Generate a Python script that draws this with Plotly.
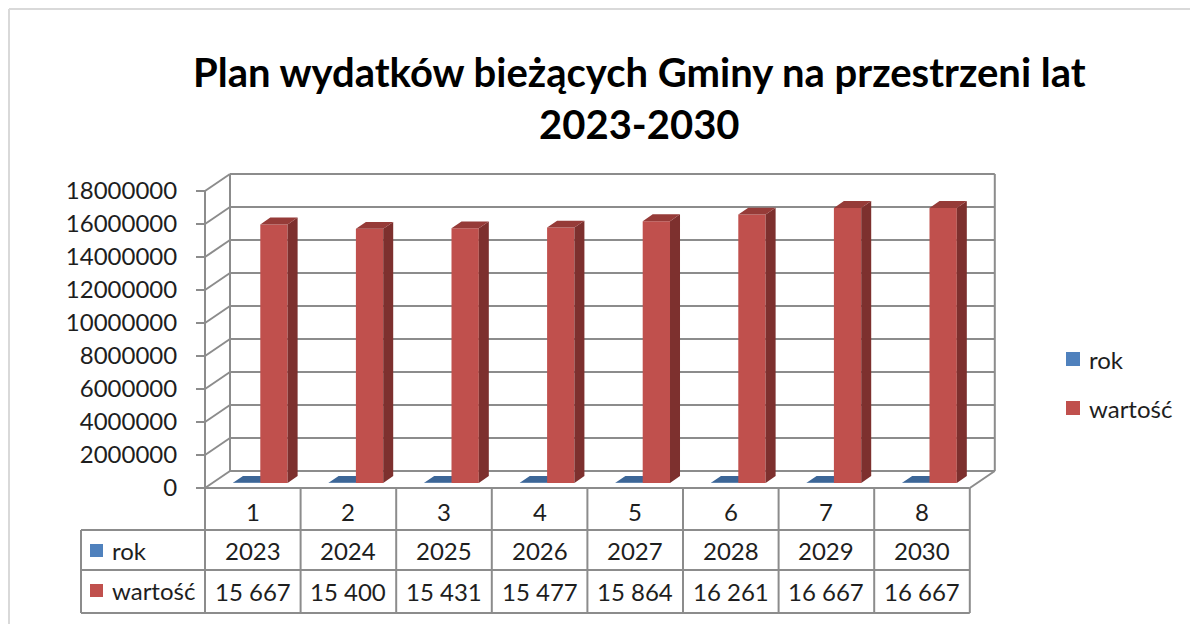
import plotly.graph_objects as go

# ---------------- data ----------------
kategorie = [1, 2, 3, 4, 5, 6, 7, 8]
rok = [2023, 2024, 2025, 2026, 2027, 2028, 2029, 2030]
wartosc_tys = [15667, 15400, 15431, 15477, 15864, 16261, 16667, 16667]
wartosc = [v * 1000 for v in wartosc_tys]
serie = ["rok", "wartość"]
y_ticks = [0, 2000000, 4000000, 6000000, 8000000, 10000000, 12000000, 14000000, 16000000, 18000000]
tytul = "Plan wydatków bieżących Gminy na przestrzeni lat<br>2023-2030"

# ---------------- styles / geometry ----------------
PAGE_OFF = 8        # default body margin of the html page
W, H = 1198 - PAGE_OFF, 624 - PAGE_OFF
FONT = "Lato"
TXT = "#1e1e1e"
GRID = "#8c8c8c"
BLUE = {"front": "#4F81BD", "side": "#34557E", "top": "#3C6697"}
RED = {"front": "#C0504D", "side": "#7D302E", "top": "#963B38"}

X0 = 205.0          # front-left floor corner (screen px)
CW = 95.6           # category width (px)
YF = 488.0          # front floor (screen px)
K = 297.0 / 18e6    # px per value unit
DXP, DYP = 25.0, 17.0   # depth offset (px)
DX = DXP / CW
DY = DYP / K

L, R, T, B = 190, 1010, 160, 500   # plot area in screen px


def xpx(p):
    return 0.5 + (p - X0) / CW


def ypx(p):
    return (YF - p) / K


def pxx(p):
    return (p - L) / (R - L)


def pxy(p):
    return (B - p) / (B - T)


GAP = 1.5
w = 1.0 / (2 + GAP)
depth = 0.4
f0 = (1 - depth) / 2
n = len(kategorie)
xmin, xmax = 0.5, n + 0.5

fig = go.Figure()


def bar_polys(x0, vals):
    fr_x, fr_y, sd_x, sd_y, tp_x, tp_y = [], [], [], [], [], []
    for i, v in zip(kategorie, vals):
        a = i + x0
        b = a + w
        b0 = f0 * DY
        ddx, ddy = depth * DX, depth * DY
        fr_x += [a, b, b, a, a, None]
        fr_y += [b0, b0, b0 + v, b0 + v, b0, None]
        sd_x += [b, b + ddx, b + ddx, b, b, None]
        sd_y += [b0, b0 + ddy, b0 + v + ddy, b0 + v, b0, None]
        tp_x += [a, b, b + ddx, a + ddx, a, None]
        tp_y += [b0 + v, b0 + v, b0 + v + ddy, b0 + v + ddy, b0 + v, None]
    return (fr_x, fr_y), (sd_x, sd_y), (tp_x, tp_y)


s0 = f0 * DX
for name, vals, x0, col in [(serie[0], rok, s0 - w, BLUE), (serie[1], wartosc, s0, RED)]:
    fr, sd, tp = bar_polys(x0, vals)
    for (xs, ys), key_ in [(fr, "front"), (sd, "side"), (tp, "top")]:
        fig.add_trace(go.Scatter(x=xs, y=ys, fill="toself", fillcolor=col[key_], mode="none",
                                 name=name, showlegend=False, hoverinfo="skip"))

shapes = []


def seg(x0, y0, x1, y1, **kw):
    d = dict(type="line", x0=x0, y0=y0, x1=x1, y1=y1, xref="x", yref="y",
             line=dict(color=GRID, width=2), layer="below")
    d.update(kw)
    shapes.append(d)


ytop = y_ticks[-1]
for v in y_ticks:
    seg(xmin, v, xmin + DX, v + DY)
    seg(xmin + DX, v + DY, xmax + DX, v + DY)
seg(xmin, 0, xmin, ytop)
seg(xmin + DX, DY, xmin + DX, ytop + DY)
seg(xmax + DX, DY, xmax + DX, ytop + DY)
seg(xmin, 0, xmax, 0)
seg(xmax, 0, xmax + DX, DY)


def pseg(x0, y0, x1, y1, color=GRID, width=2):
    shapes.append(dict(type="line", xref="paper", yref="paper",
                       x0=pxx(x0), y0=pxy(y0), x1=pxx(x1), y1=pxy(y1),
                       line=dict(color=color, width=width)))


# data table
row_top, r1, r2, r3 = YF, 530, 570, 613
xl = 81
xright = X0 + n * CW
for k in range(n + 1):
    pseg(X0 + k * CW, row_top, X0 + k * CW, r3)
for yy in (r1, r2, r3):
    pseg(xl, yy, xright, yy)
pseg(xl, r1, xl, r3)

# outer border (chart area edge)
pseg(9, 9, 9, 640, color="#d9d9d9")
pseg(9, 9, 1220, 9, color="#d9d9d9")

annotations = []
for i, kat, r_, v in zip(kategorie, kategorie, rok, wartosc_tys):
    for txt, yy in [(str(kat), 511), (str(r_), 550), (f"{v:,}".replace(",", " "), 591)]:
        annotations.append(dict(text=txt, x=i, xref="x", y=pxy(yy), yref="paper",
                                showarrow=False, xanchor="center", yanchor="middle",
                                font=dict(family=FONT, size=24, color=TXT)))


def key(px0, py0, sz, color, label, tx):
    shapes.append(dict(type="rect", xref="paper", yref="paper",
                       x0=pxx(px0), x1=pxx(px0 + sz), y0=pxy(py0), y1=pxy(py0 + sz),
                       fillcolor=color, line=dict(width=0)))
    annotations.append(dict(text=label, x=pxx(tx), xref="paper", y=pxy(py0 + sz / 2), yref="paper",
                            showarrow=False, xanchor="left", yanchor="middle",
                            font=dict(family=FONT, size=24, color=TXT)))


# table row keys
key(90, 544, 13, BLUE["front"], serie[0], 110)
key(90, 584, 13, RED["front"], serie[1], 110)
# legend
key(1066, 352, 14, BLUE["front"], serie[0], 1087)
key(1066, 401, 14, RED["front"], serie[1], 1087)

# title
annotations.append(dict(text="<b>" + tytul + "</b>", x=pxx(639), xref="paper", y=pxy(98), yref="paper",
                        showarrow=False, xanchor="center", yanchor="middle",
                        font=dict(family=FONT, size=40, color="#000000")))

fig.update_layout(
    width=W, height=H,
    margin=dict(l=L - PAGE_OFF, r=(PAGE_OFF + W) - R, t=T - PAGE_OFF, b=(PAGE_OFF + H) - B),
    paper_bgcolor="white", plot_bgcolor="rgba(0,0,0,0)",
    showlegend=False,
    shapes=shapes, annotations=annotations,
    xaxis=dict(range=[xpx(L), xpx(R)], showgrid=False, zeroline=False, showticklabels=False,
               ticks="", showline=False, fixedrange=True),
    yaxis=dict(range=[ypx(B), ypx(T)], showgrid=False, zeroline=False, showline=False,
               anchor="free", position=pxx(X0),
               tickvals=y_ticks, ticktext=[str(v) for v in y_ticks],
               ticks="outside", ticklen=9, tickwidth=2, tickcolor=GRID,
               ticklabelstandoff=14,
               tickfont=dict(family=FONT, size=24, color=TXT), fixedrange=True),
)

fig.write_html("out.html")
